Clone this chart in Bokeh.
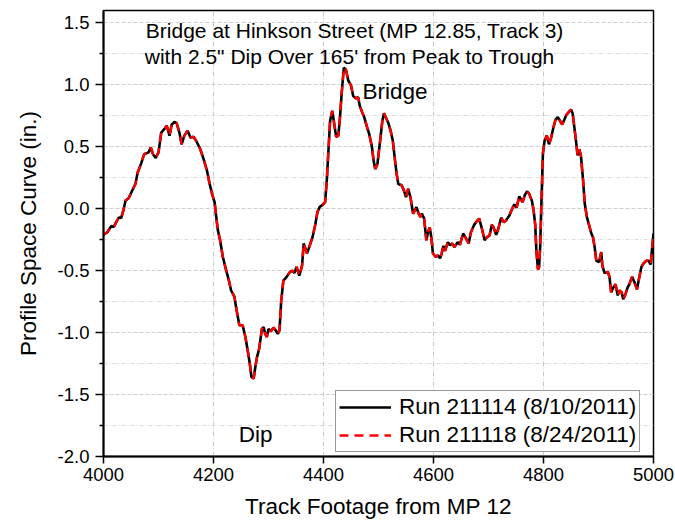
from bokeh.plotting import figure
from bokeh.models import (Range1d, FixedTicker, Label, Legend, LegendItem,
                          PrintfTickFormatter, ColumnDataSource)
from bokeh.embed import file_html
from bokeh.resources import INLINE

# ---- data ----
track_footage = [
    4000, 4007, 4014, 4019, 4024, 4028, 4032, 4036, 4040, 4046, 4052, 4058, 4062, 4068,
    4074, 4082, 4086, 4090, 4095, 4100, 4105, 4110, 4115, 4120, 4124, 4129, 4133, 4138,
    4142, 4147, 4153, 4158, 4164, 4170, 4176, 4182, 4188, 4193, 4198, 4202, 4205, 4208,
    4212, 4217, 4222, 4228, 4232, 4238, 4242, 4247, 4253, 4258, 4262, 4266, 4269, 4273,
    4276, 4279, 4283, 4288, 4291, 4294, 4297, 4300, 4304, 4309, 4312, 4317, 4320, 4323,
    4327, 4333, 4339, 4344, 4347, 4351, 4356, 4361, 4364, 4367, 4370, 4374, 4380, 4385,
    4389, 4393, 4399, 4403, 4406, 4409, 4412, 4416, 4419, 4423, 4427, 4430, 4433, 4437,
    4441, 4445, 4450, 4454, 4459, 4463, 4466, 4471, 4474, 4479, 4483, 4488, 4491, 4494,
    4498, 4503, 4507, 4510, 4514, 4518, 4522, 4526, 4530, 4533, 4536, 4542, 4546, 4550,
    4554, 4558, 4563, 4566, 4569, 4573, 4576, 4579, 4583, 4587, 4590, 4593, 4596, 4599,
    4604, 4608, 4612, 4615, 4618, 4621, 4626, 4630, 4634, 4638, 4644, 4648, 4654, 4659,
    4664, 4668, 4674, 4679, 4683, 4688, 4693, 4697, 4702, 4706, 4709, 4714, 4718, 4723,
    4728, 4732, 4738, 4743, 4747, 4751, 4756, 4759, 4762, 4766, 4770, 4774, 4779, 4782,
    4785, 4787, 4790, 4792, 4794, 4796, 4799, 4802, 4806, 4810, 4814, 4818, 4822, 4826,
    4830, 4834, 4838, 4842, 4847, 4850, 4853, 4856, 4859, 4862, 4865, 4868, 4872, 4875,
    4879, 4884, 4887, 4890, 4893, 4896, 4901, 4905, 4907, 4911, 4917, 4920, 4923, 4927,
    4931, 4935, 4938, 4942, 4945, 4949, 4953, 4956, 4961, 4965, 4970, 4973, 4978, 4982,
    4987, 4991, 4995, 4997, 5000,
]

run_211114 = [
    -0.21, -0.19, -0.14, -0.145, -0.10, -0.07, -0.075, -0.016, 0.065, 0.086, 0.145, 0.20, 0.29, 0.36,
    0.44, 0.455, 0.495, 0.44, 0.41, 0.455, 0.615, 0.64, 0.67, 0.59, 0.68, 0.70, 0.69, 0.615,
    0.52, 0.59, 0.63, 0.575, 0.58, 0.535, 0.48, 0.40, 0.31, 0.20, 0.11, 0.054, -0.067, -0.175,
    -0.255, -0.39, -0.48, -0.58, -0.66, -0.71, -0.82, -0.94, -0.94, -1.035, -1.14, -1.25, -1.36, -1.37,
    -1.28, -1.20, -1.13, -0.97, -0.955, -1.01, -1.035, -0.97, -0.99, -0.96, -0.975, -1.01, -0.98, -0.75,
    -0.58, -0.55, -0.51, -0.50, -0.52, -0.47, -0.54, -0.46, -0.28, -0.32, -0.36, -0.31, -0.23, -0.13,
    -0.027, 0.013, 0.035, 0.054, 0.23, 0.47, 0.71, 0.79, 0.70, 0.58, 0.59, 0.74, 0.93, 1.14,
    1.12, 1.035, 0.995, 0.91, 0.89, 0.90, 0.83, 0.77, 0.74, 0.66, 0.605, 0.50, 0.39, 0.32,
    0.36, 0.55, 0.71, 0.77, 0.73, 0.69, 0.63, 0.55, 0.39, 0.28, 0.20, 0.19, 0.15, 0.094,
    0.16, 0.094, -0.04, -0.013, 0.013, -0.04, -0.067, -0.04, -0.08, -0.255, -0.19, -0.15, -0.23, -0.36,
    -0.39, -0.375, -0.40, -0.36, -0.30, -0.34, -0.27, -0.295, -0.28, -0.31, -0.27, -0.29, -0.20, -0.24,
    -0.28, -0.19, -0.13, -0.10, -0.08, -0.16, -0.255, -0.23, -0.215, -0.13, -0.15, -0.21, -0.16, -0.073,
    -0.11, -0.094, -0.054, 0.0, 0.035, 0.008, 0.10, 0.073, 0.054, 0.11, 0.14, 0.12, 0.062, -0.013,
    -0.13, -0.34, -0.49, -0.47, -0.30, 0.02, 0.45, 0.55, 0.59, 0.52, 0.575, 0.655, 0.72, 0.74,
    0.71, 0.68, 0.72, 0.76, 0.785, 0.80, 0.77, 0.66, 0.55, 0.43, 0.48, 0.43, 0.226, 0.04,
    -0.07, -0.15, -0.20, -0.23, -0.31, -0.42, -0.43, -0.35, -0.46, -0.52, -0.51, -0.55, -0.675, -0.635,
    -0.61, -0.70, -0.66, -0.675, -0.73, -0.69, -0.635, -0.61, -0.55, -0.59, -0.65, -0.58, -0.47, -0.44,
    -0.42, -0.42, -0.45, -0.34, -0.20,
]

# the second run lies on top of the first one everywhere in the picture
run_211118 = list(run_211114)

x_ticks = [4000, 4200, 4400, 4600, 4800, 5000]
y_ticks = [-2.0, -1.5, -1.0, -0.5, 0.0, 0.5, 1.0, 1.5]
y_minor = [-1.75, -1.25, -0.75, -0.25, 0.25, 0.75, 1.25]

series_labels = ["Run 211114 (8/10/2011)", "Run 211118 (8/24/2011)"]
title_lines = ["Bridge at Hinkson Street (MP 12.85, Track 3)",
               "with 2.5\" Dip Over 165' from Peak to Trough"]

FONT = "Liberation Sans"

p = figure(width=675, height=525, output_backend="svg", toolbar_location=None,
           x_range=Range1d(4000, 5000), y_range=Range1d(-2.0, 1.6),
           min_border_left=103, min_border_right=22, min_border_top=10,
           min_border_bottom=69, background_fill_color="white",
           border_fill_color="white")

p.outline_line_color = "black"
p.outline_line_width = 1.5

# axes
p.xaxis.ticker = FixedTicker(ticks=x_ticks, minor_ticks=[])
p.yaxis.ticker = FixedTicker(ticks=y_ticks, minor_ticks=y_minor)
p.yaxis.formatter = PrintfTickFormatter(format="%.1f")
for ax in (p.xaxis[0], p.yaxis[0]):
    ax.axis_line_color = "black"
    ax.axis_line_width = 2
    ax.major_tick_line_color = "black"
    ax.major_tick_line_width = 1.5
    ax.minor_tick_line_color = "black"
    ax.minor_tick_line_width = 1.5
    ax.major_tick_in = 0
    ax.minor_tick_in = 0
    ax.minor_tick_out = 4
    ax.major_label_text_font = FONT
    ax.major_label_text_font_size = "18.5px"
    ax.major_label_text_color = "black"
    ax.axis_label_text_font = FONT
    ax.axis_label_text_font_size = "22.5px"
    ax.axis_label_text_font_style = "normal"
    ax.axis_label_text_color = "black"
p.xaxis.major_tick_out = 7
p.yaxis.major_tick_out = 8
p.xaxis.major_label_standoff = 4
p.yaxis.major_label_standoff = 6
p.xaxis.axis_label_standoff = 10
p.yaxis.axis_label_standoff = 14
p.xaxis.axis_label = "Track Footage from MP 12"
p.yaxis.axis_label = "Profile Space Curve (in.)"

# grids
p.xgrid.grid_line_color = "#c8c8c8"
p.xgrid.grid_line_dash = "5 2 1 2"
p.xgrid.grid_line_width = 1
p.ygrid.grid_line_color = "#cfcfcf"
p.ygrid.grid_line_dash = "4 2"
p.ygrid.grid_line_width = 1
p.ygrid.minor_grid_line_color = "#dadada"
p.ygrid.minor_grid_line_dash = "4 2 1 2"
p.ygrid.minor_grid_line_width = 1

src = ColumnDataSource(dict(x=track_footage, a=run_211114, b=run_211118))
r1 = p.line("x", "a", source=src, line_color="black", line_width=2.6)
r2 = p.line("x", "b", source=src, line_color="red", line_width=2.4, line_dash="9 6")

legend = Legend(items=[LegendItem(label=series_labels[0], renderers=[r1]),
                       LegendItem(label=series_labels[1], renderers=[r2])],
                location=(232, 4), orientation="vertical",
                label_text_font=FONT, label_text_font_size="22.5px",
                label_text_color="black", glyph_width=52, glyph_height=26,
                label_height=26, label_standoff=8, padding=3, spacing=2,
                margin=0, border_line_color="#333333", border_line_width=1,
                background_fill_color="white", background_fill_alpha=1.0)
p.add_layout(legend)

p.add_layout(Label(x=4077, y=1.435, text=title_lines[0], text_font=FONT,
                   text_font_size="21px", text_baseline="alphabetic",
                   text_color="black"))
p.add_layout(Label(x=4075, y=1.23, text=title_lines[1], text_font=FONT,
                   text_font_size="21px", text_baseline="alphabetic",
                   text_color="black"))
p.add_layout(Label(x=4471, y=0.95, text="Bridge", text_font=FONT,
                   text_font_size="22.5px", text_baseline="alphabetic",
                   text_color="black"))
p.add_layout(Label(x=4246, y=-1.82, text="Dip", text_font=FONT,
                   text_font_size="22.5px", text_baseline="alphabetic",
                   text_color="black"))

open("out.html", "w").write(file_html(p, INLINE))
